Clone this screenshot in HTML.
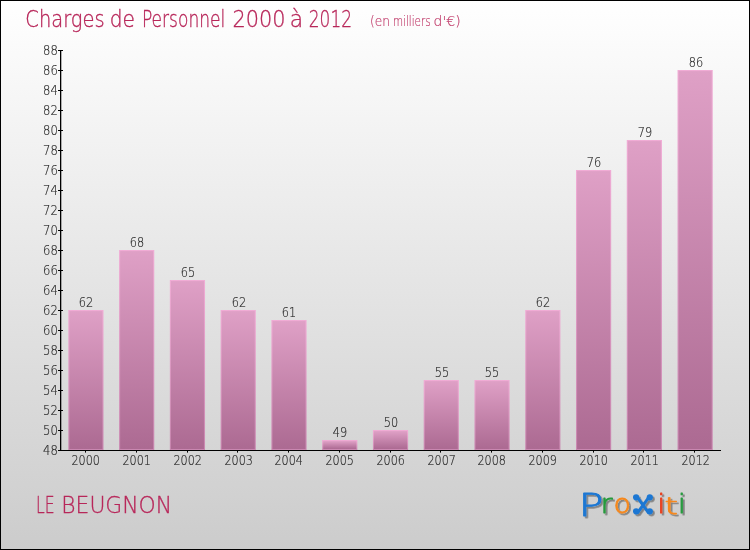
<!DOCTYPE html>
<html lang="fr"><head><meta charset="utf-8"><title>Charges de Personnel 2000 à 2012 - LE BEUGNON</title>
<style>
html,body{margin:0;padding:0;background:#fff;}
body{width:750px;height:550px;overflow:hidden;}
svg{display:block;}
text{font-family:"DejaVu Sans Light","Liberation Sans",sans-serif;}
.ax{fill:#242424;stroke:#242424;stroke-width:0.18px;font-size:13.7px;}
.ttl{fill:#b8275a;stroke:#b8275a;stroke-width:0.35px;font-size:23.4px;}
.sub{fill:#c23f6d;stroke:#c23f6d;stroke-width:0.2px;font-size:14.7px;}
.city{fill:#b8275a;stroke:#b8275a;stroke-width:0.3px;font-size:22.4px;}
.logo{font-size:27.4px;stroke-width:1.3px;stroke-linejoin:round;stroke-linecap:round;}
</style></head><body>
<svg width="750" height="550" viewBox="0 0 750 550">
<defs>
<linearGradient id="bg" x1="0" y1="0" x2="0" y2="1"><stop offset="0" stop-color="#ffffff"/><stop offset="1" stop-color="#cccccc"/></linearGradient>
<linearGradient id="bar" x1="0" y1="0" x2="0" y2="1"><stop offset="0" stop-color="#dfa0c6"/><stop offset="1" stop-color="#ac6a92"/></linearGradient>
<linearGradient id="barb" x1="0" y1="0" x2="0" y2="1"><stop offset="0" stop-color="#f0acd5"/><stop offset="1" stop-color="#c987b0"/></linearGradient>
<filter id="sh" x="-10%" y="-10%" width="130%" height="140%"><feDropShadow dx="1.8" dy="1.8" stdDeviation="0.6" flood-color="#000" flood-opacity="0.38"/></filter>
</defs>
<rect x="0" y="0" width="750" height="550" fill="#000"/>
<rect x="1" y="1" width="748" height="548" fill="url(#bg)"/>

<text class="ttl" y="27.3"><tspan x="25.3" textLength="79.3" lengthAdjust="spacingAndGlyphs">Charges</tspan> <tspan x="109.8" textLength="25.2" lengthAdjust="spacingAndGlyphs">de</tspan> <tspan x="141.9" textLength="83.4" lengthAdjust="spacingAndGlyphs">Personnel</tspan> <tspan x="232.4" textLength="53" lengthAdjust="spacingAndGlyphs">2000</tspan> <tspan x="289.8" textLength="13.4" lengthAdjust="spacingAndGlyphs">à</tspan> <tspan x="308.8" textLength="43.2" lengthAdjust="spacingAndGlyphs">2012</tspan></text>
<text class="sub" y="25.7"><tspan x="369.9" textLength="20" lengthAdjust="spacingAndGlyphs">(en</tspan> <tspan x="393" textLength="37.6" lengthAdjust="spacingAndGlyphs">milliers</tspan> <tspan x="433.6" textLength="27" lengthAdjust="spacingAndGlyphs">d'€)</tspan></text>
<rect x="58" y="450" width="5" height="1" fill="#000"/>
<text class="ax" x="43.1" y="455.2" textLength="14.7" lengthAdjust="spacingAndGlyphs">48</text>
<rect x="58" y="430" width="5" height="1" fill="#000"/>
<text class="ax" x="43.1" y="435.2" textLength="14.7" lengthAdjust="spacingAndGlyphs">50</text>
<rect x="58" y="410" width="5" height="1" fill="#000"/>
<text class="ax" x="43.1" y="415.2" textLength="14.7" lengthAdjust="spacingAndGlyphs">52</text>
<rect x="58" y="390" width="5" height="1" fill="#000"/>
<text class="ax" x="43.1" y="395.2" textLength="14.7" lengthAdjust="spacingAndGlyphs">54</text>
<rect x="58" y="370" width="5" height="1" fill="#000"/>
<text class="ax" x="43.1" y="375.2" textLength="14.7" lengthAdjust="spacingAndGlyphs">56</text>
<rect x="58" y="350" width="5" height="1" fill="#000"/>
<text class="ax" x="43.1" y="355.2" textLength="14.7" lengthAdjust="spacingAndGlyphs">58</text>
<rect x="58" y="330" width="5" height="1" fill="#000"/>
<text class="ax" x="43.1" y="335.2" textLength="14.7" lengthAdjust="spacingAndGlyphs">60</text>
<rect x="58" y="310" width="5" height="1" fill="#000"/>
<text class="ax" x="43.1" y="315.2" textLength="14.7" lengthAdjust="spacingAndGlyphs">62</text>
<rect x="58" y="290" width="5" height="1" fill="#000"/>
<text class="ax" x="43.1" y="295.2" textLength="14.7" lengthAdjust="spacingAndGlyphs">64</text>
<rect x="58" y="270" width="5" height="1" fill="#000"/>
<text class="ax" x="43.1" y="275.2" textLength="14.7" lengthAdjust="spacingAndGlyphs">66</text>
<rect x="58" y="250" width="5" height="1" fill="#000"/>
<text class="ax" x="43.1" y="255.2" textLength="14.7" lengthAdjust="spacingAndGlyphs">68</text>
<rect x="58" y="230" width="5" height="1" fill="#000"/>
<text class="ax" x="43.1" y="235.2" textLength="14.7" lengthAdjust="spacingAndGlyphs">70</text>
<rect x="58" y="210" width="5" height="1" fill="#000"/>
<text class="ax" x="43.1" y="215.2" textLength="14.7" lengthAdjust="spacingAndGlyphs">72</text>
<rect x="58" y="190" width="5" height="1" fill="#000"/>
<text class="ax" x="43.1" y="195.2" textLength="14.7" lengthAdjust="spacingAndGlyphs">74</text>
<rect x="58" y="170" width="5" height="1" fill="#000"/>
<text class="ax" x="43.1" y="175.2" textLength="14.7" lengthAdjust="spacingAndGlyphs">76</text>
<rect x="58" y="150" width="5" height="1" fill="#000"/>
<text class="ax" x="43.1" y="155.2" textLength="14.7" lengthAdjust="spacingAndGlyphs">78</text>
<rect x="58" y="130" width="5" height="1" fill="#000"/>
<text class="ax" x="43.1" y="135.2" textLength="14.7" lengthAdjust="spacingAndGlyphs">80</text>
<rect x="58" y="110" width="5" height="1" fill="#000"/>
<text class="ax" x="43.1" y="115.2" textLength="14.7" lengthAdjust="spacingAndGlyphs">82</text>
<rect x="58" y="90" width="5" height="1" fill="#000"/>
<text class="ax" x="43.1" y="95.2" textLength="14.7" lengthAdjust="spacingAndGlyphs">84</text>
<rect x="58" y="70" width="5" height="1" fill="#000"/>
<text class="ax" x="43.1" y="75.2" textLength="14.7" lengthAdjust="spacingAndGlyphs">86</text>
<rect x="58" y="50" width="5" height="1" fill="#000"/>
<text class="ax" x="43.1" y="55.2" textLength="14.7" lengthAdjust="spacingAndGlyphs">88</text>
<rect x="85" y="448" width="1" height="4.6" fill="#000"/>
<rect x="136" y="448" width="1" height="4.6" fill="#000"/>
<rect x="187" y="448" width="1" height="4.6" fill="#000"/>
<rect x="237" y="448" width="1" height="4.6" fill="#000"/>
<rect x="288" y="448" width="1" height="4.6" fill="#000"/>
<rect x="339" y="448" width="1" height="4.6" fill="#000"/>
<rect x="390" y="448" width="1" height="4.6" fill="#000"/>
<rect x="440" y="448" width="1" height="4.6" fill="#000"/>
<rect x="491" y="448" width="1" height="4.6" fill="#000"/>
<rect x="542" y="448" width="1" height="4.6" fill="#000"/>
<rect x="593" y="448" width="1" height="4.6" fill="#000"/>
<rect x="643" y="448" width="1" height="4.6" fill="#000"/>
<rect x="694" y="448" width="1" height="4.6" fill="#000"/>
<rect x="60" y="50" width="1.3" height="401" fill="#000"/>
<rect x="58" y="450" width="663" height="1" fill="#000"/>
<rect x="68.30" y="310" width="35.2" height="140" fill="url(#barb)"/>
<rect x="69.40" y="311.1" width="33.00" height="137.90" fill="url(#bar)"/>
<text class="ax" x="78.7" y="307.2" textLength="14.4" lengthAdjust="spacingAndGlyphs">62</text>
<text class="ax" x="71.5" y="465.2" textLength="28.4" lengthAdjust="spacingAndGlyphs">2000</text>
<rect x="119.07" y="250" width="35.2" height="200" fill="url(#barb)"/>
<rect x="120.17" y="251.1" width="33.00" height="197.90" fill="url(#bar)"/>
<text class="ax" x="129.7" y="247.2" textLength="14.4" lengthAdjust="spacingAndGlyphs">68</text>
<text class="ax" x="122.5" y="465.2" textLength="28.4" lengthAdjust="spacingAndGlyphs">2001</text>
<rect x="169.84" y="280" width="35.2" height="170" fill="url(#barb)"/>
<rect x="170.94" y="281.1" width="33.00" height="167.90" fill="url(#bar)"/>
<text class="ax" x="180.7" y="277.2" textLength="14.4" lengthAdjust="spacingAndGlyphs">65</text>
<text class="ax" x="173.5" y="465.2" textLength="28.4" lengthAdjust="spacingAndGlyphs">2002</text>
<rect x="220.61" y="310" width="35.2" height="140" fill="url(#barb)"/>
<rect x="221.71" y="311.1" width="33.00" height="137.90" fill="url(#bar)"/>
<text class="ax" x="231.7" y="307.2" textLength="14.4" lengthAdjust="spacingAndGlyphs">62</text>
<text class="ax" x="224.5" y="465.2" textLength="28.4" lengthAdjust="spacingAndGlyphs">2003</text>
<rect x="271.38" y="320" width="35.2" height="130" fill="url(#barb)"/>
<rect x="272.48" y="321.1" width="33.00" height="127.90" fill="url(#bar)"/>
<text class="ax" x="281.7" y="317.2" textLength="14.4" lengthAdjust="spacingAndGlyphs">61</text>
<text class="ax" x="274.5" y="465.2" textLength="28.4" lengthAdjust="spacingAndGlyphs">2004</text>
<rect x="322.15" y="440" width="35.2" height="10" fill="url(#barb)"/>
<rect x="323.25" y="441.1" width="33.00" height="7.90" fill="url(#bar)"/>
<text class="ax" x="332.7" y="437.2" textLength="14.4" lengthAdjust="spacingAndGlyphs">49</text>
<text class="ax" x="325.5" y="465.2" textLength="28.4" lengthAdjust="spacingAndGlyphs">2005</text>
<rect x="372.92" y="430" width="35.2" height="20" fill="url(#barb)"/>
<rect x="374.02" y="431.1" width="33.00" height="17.90" fill="url(#bar)"/>
<text class="ax" x="383.7" y="427.2" textLength="14.4" lengthAdjust="spacingAndGlyphs">50</text>
<text class="ax" x="376.5" y="465.2" textLength="28.4" lengthAdjust="spacingAndGlyphs">2006</text>
<rect x="423.68" y="380" width="35.2" height="70" fill="url(#barb)"/>
<rect x="424.78" y="381.1" width="33.00" height="67.90" fill="url(#bar)"/>
<text class="ax" x="434.7" y="377.2" textLength="14.4" lengthAdjust="spacingAndGlyphs">55</text>
<text class="ax" x="427.5" y="465.2" textLength="28.4" lengthAdjust="spacingAndGlyphs">2007</text>
<rect x="474.45" y="380" width="35.2" height="70" fill="url(#barb)"/>
<rect x="475.55" y="381.1" width="33.00" height="67.90" fill="url(#bar)"/>
<text class="ax" x="484.7" y="377.2" textLength="14.4" lengthAdjust="spacingAndGlyphs">55</text>
<text class="ax" x="477.5" y="465.2" textLength="28.4" lengthAdjust="spacingAndGlyphs">2008</text>
<rect x="525.22" y="310" width="35.2" height="140" fill="url(#barb)"/>
<rect x="526.32" y="311.1" width="33.00" height="137.90" fill="url(#bar)"/>
<text class="ax" x="535.7" y="307.2" textLength="14.4" lengthAdjust="spacingAndGlyphs">62</text>
<text class="ax" x="528.5" y="465.2" textLength="28.4" lengthAdjust="spacingAndGlyphs">2009</text>
<rect x="575.99" y="170" width="35.2" height="280" fill="url(#barb)"/>
<rect x="577.09" y="171.1" width="33.00" height="277.90" fill="url(#bar)"/>
<text class="ax" x="586.7" y="167.2" textLength="14.4" lengthAdjust="spacingAndGlyphs">76</text>
<text class="ax" x="579.5" y="465.2" textLength="28.4" lengthAdjust="spacingAndGlyphs">2010</text>
<rect x="626.76" y="140" width="35.2" height="310" fill="url(#barb)"/>
<rect x="627.86" y="141.1" width="33.00" height="307.90" fill="url(#bar)"/>
<text class="ax" x="637.7" y="137.2" textLength="14.4" lengthAdjust="spacingAndGlyphs">79</text>
<text class="ax" x="630.5" y="465.2" textLength="28.4" lengthAdjust="spacingAndGlyphs">2011</text>
<rect x="677.53" y="70" width="35.2" height="380" fill="url(#barb)"/>
<rect x="678.63" y="71.1" width="33.00" height="377.90" fill="url(#bar)"/>
<text class="ax" x="688.7" y="67.2" textLength="14.4" lengthAdjust="spacingAndGlyphs">86</text>
<text class="ax" x="681.5" y="465.2" textLength="28.4" lengthAdjust="spacingAndGlyphs">2012</text>
<text class="city" y="513.4"><tspan x="36.1" textLength="18.6" lengthAdjust="spacingAndGlyphs">LE</tspan> <tspan x="61.3" textLength="110.8" lengthAdjust="spacingAndGlyphs">BEUGNON</tspan></text>
<g filter="url(#sh)">
<text class="logo"><tspan x="578.8" y="516.2" font-size="31.6" fill="#1b77d3" stroke="#1b77d3" stroke-width="0.9" textLength="24.6" lengthAdjust="spacingAndGlyphs">P</tspan><tspan x="600.4" y="513.3" fill="#279a3e" stroke="#279a3e" stroke-width="0.9" textLength="12.0" lengthAdjust="spacingAndGlyphs">r</tspan><tspan x="613.6" y="513.3" fill="#f6881c" stroke="#f6881c" stroke-width="0.9" textLength="17.4" lengthAdjust="spacingAndGlyphs">o</tspan><tspan x="635.2" y="513.3" fill="#1b77d3" stroke="#1b77d3" stroke-width="1.9" textLength="15.6" lengthAdjust="spacingAndGlyphs">x</tspan><tspan x="657.4" y="513.3" fill="#ea3f1c" stroke="#ea3f1c" stroke-width="1.0">i</tspan><tspan x="664.6" y="513.5" font-size="22.5" fill="#f6881c" stroke="#f6881c" stroke-width="0.75" textLength="13.4" lengthAdjust="spacingAndGlyphs">t</tspan><tspan x="678.0" y="513.3" fill="#279a3e" stroke="#279a3e" stroke-width="1.0">i</tspan></text>
<g fill="#1b77d3"><circle cx="636.1" cy="497.3" r="3.1"/><circle cx="649.8" cy="497.3" r="3.1"/><circle cx="636.1" cy="511.3" r="3.1"/><circle cx="649.8" cy="511.3" r="3.1"/></g>
</g>
</svg></body></html>
